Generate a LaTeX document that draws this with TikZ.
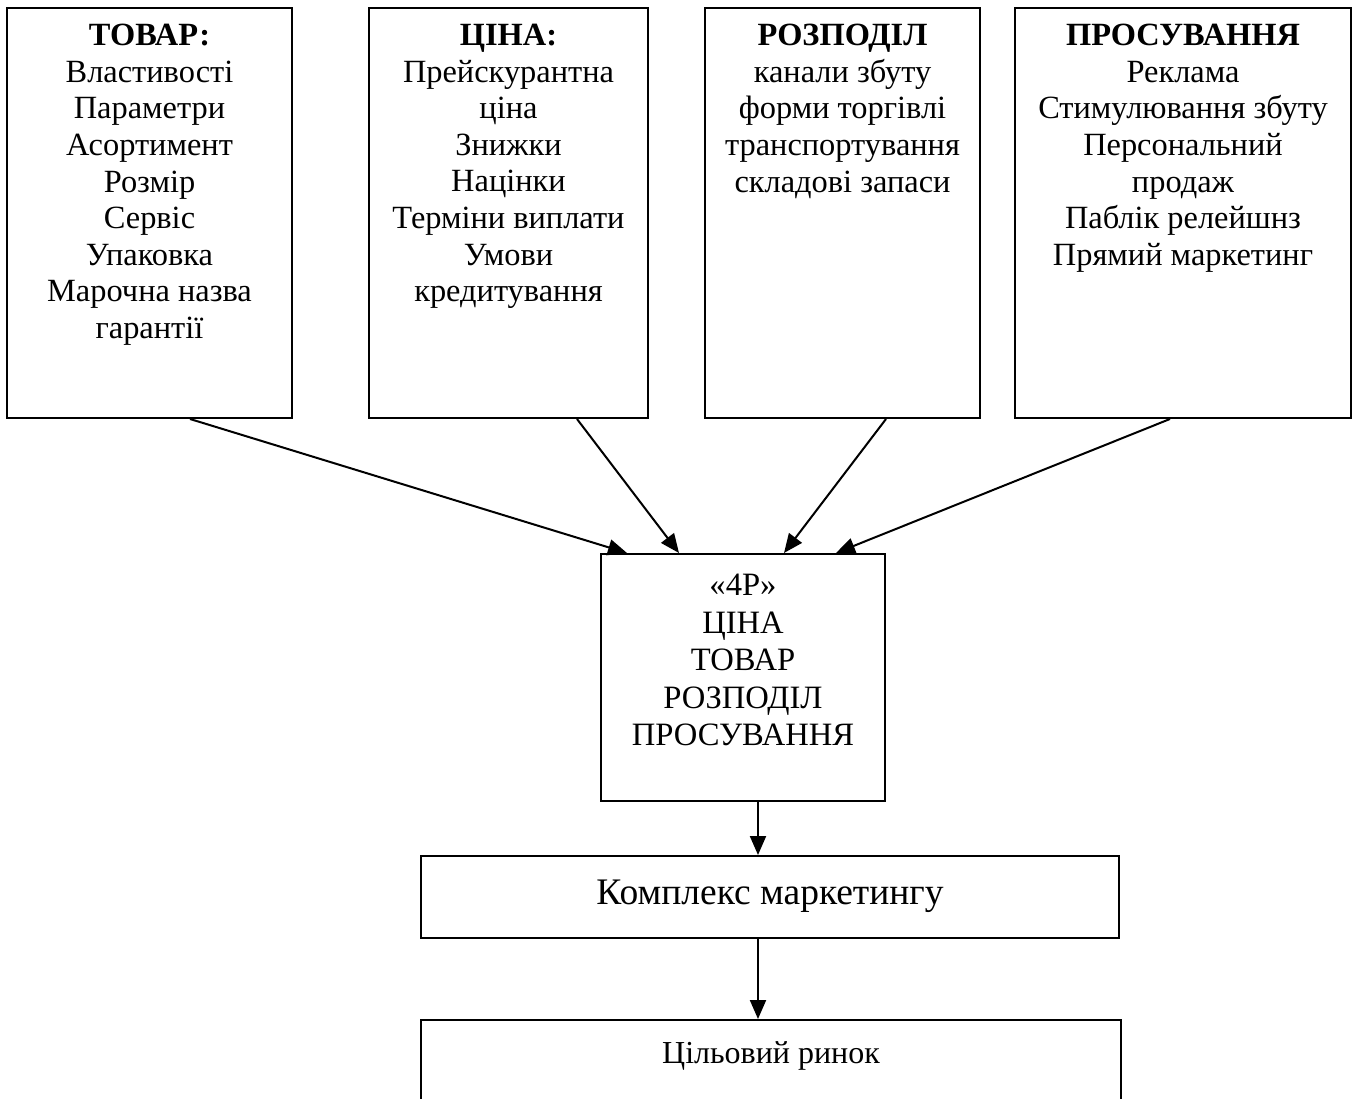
\documentclass[tikz,border=0pt]{standalone}
\usepackage{fontspec}
\setmainfont{Liberation Serif}
\usetikzlibrary{arrows.meta}
\begin{document}
\begin{tikzpicture}[x=1pt,y=-1pt,
  frame/.style={draw,line width=2pt,rectangle,inner sep=0pt},
  body/.style={anchor=north,align=center,inner sep=0pt,font=\fontsize{32.4}{36.6}\selectfont},
  arr/.style={line width=2pt,-{Triangle[length=19pt,width=16pt]}}]
\useasboundingbox (0,0) rectangle (1357,1099);
\clip (0,0) rectangle (1357,1099);

% four mix elements
\node[frame,minimum width=285pt,minimum height=410pt] (tovar) at (149.5,213) {};
\node[frame,minimum width=279pt,minimum height=410pt] (tsina) at (508.5,213) {};
\node[frame,minimum width=275pt,minimum height=410pt] (rozp) at (842.5,213) {};
\node[frame,minimum width=336pt,minimum height=410pt] (prosuv) at (1183,213) {};

\node[body] (tovarT) at (149.5,24) {\textbf{ТОВАР:}\\Властивості\\Параметри\\Асортимент\\Розмір\\Сервіс\\Упаковка\\Марочна назва\\гарантії};
\node[body] (tsinaT) at (508.5,24) {\textbf{ЦІНА:}\\Прейскурантна\\ціна\\Знижки\\Націнки\\Терміни виплати\\Умови\\кредитування};
\node[body] (rozpT) at (842.5,24) {\textbf{РОЗПОДІЛ}\\канали збуту\\форми торгівлі\\транспортування\\складові запаси};
\node[body] (prosuvT) at (1183,24) {\textbf{ПРОСУВАННЯ}\\Реклама\\Стимулювання збуту\\Персональний\\продаж\\Паблік релейшнз\\Прямий маркетинг};

% the 4P box
\node[frame,minimum width=284pt,minimum height=247pt] (p4) at (743,677.5) {};
\node[body,font=\fontsize{32.6}{37.5}\selectfont] (p4T) at (743,574) {«4P»\\ЦІНА\\ТОВАР\\РОЗПОДІЛ\\ПРОСУВАННЯ};

% marketing mix and target market
\node[frame,minimum width=698pt,minimum height=82pt] (mix) at (770,897) {};
\node[inner sep=0pt,anchor=base,font=\fontsize{37.5}{40}\selectfont] (mixT) at (770,904) {Комплекс маркетингу};
\node[frame,minimum width=700pt,minimum height=140pt] (market) at (771,1090) {};
\node[inner sep=0pt,anchor=base,font=\fontsize{32}{36}\selectfont] (marketT) at (771,1063) {Цільовий ринок};

% connectors
\draw[arr] ([xshift=40.5pt]tovar.south) -- ([xshift=-116pt]p4.north);
\draw[arr] ([xshift=68.5pt]tsina.south) -- ([xshift=-64pt]p4.north);
\draw[arr] ([xshift=43.5pt]rozp.south) -- ([xshift=41pt]p4.north);
\draw[arr] ([xshift=-13pt]prosuv.south) -- ([xshift=93pt]p4.north);
\draw[arr] ([xshift=15pt]p4.south) -- ([xshift=-12pt]mix.north);
\draw[arr] ([xshift=-12pt]mix.south) -- ([xshift=-13pt]market.north);
\end{tikzpicture}
\end{document}
